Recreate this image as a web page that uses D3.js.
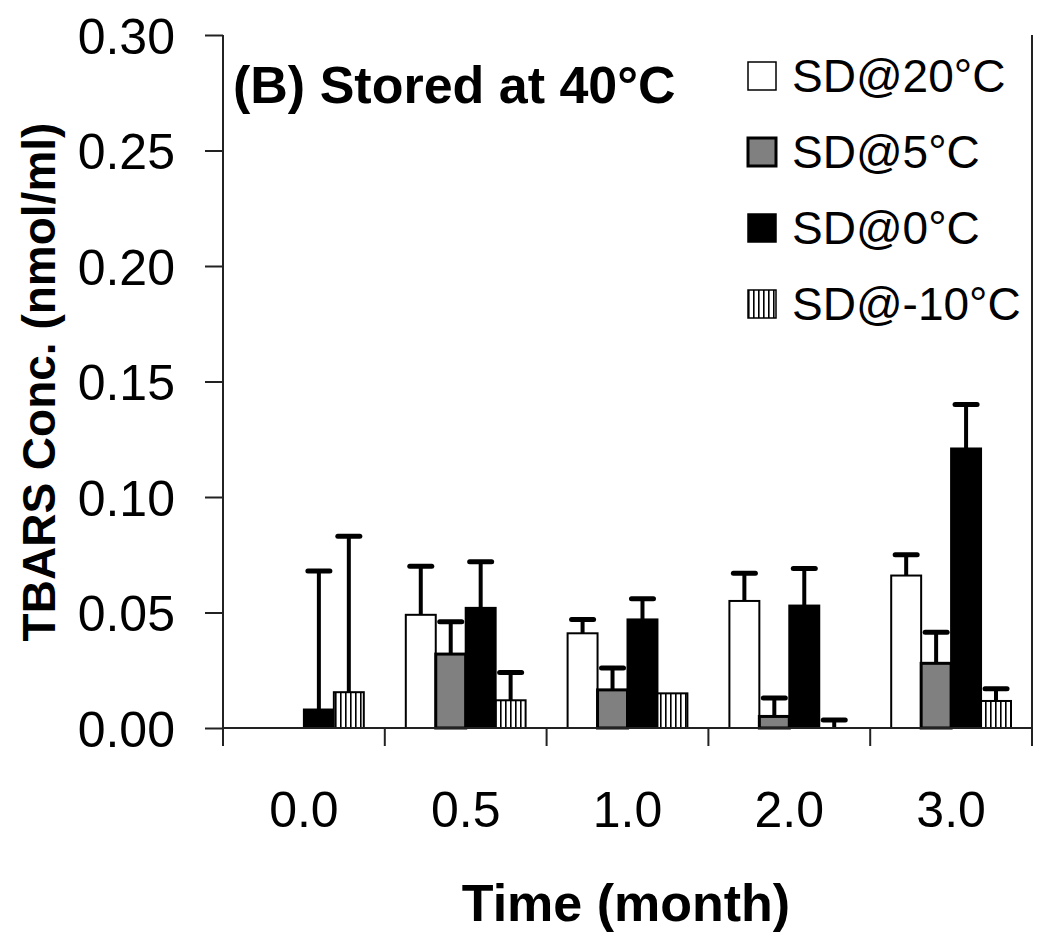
<!DOCTYPE html>
<html>
<head>
<meta charset="utf-8">
<script src="https://cdn.jsdelivr.net/npm/d3@7"></script>
<style>
  html, body { margin: 0; padding: 0; background: #fff; }
  svg { display: block; }
  text { font-family: "Liberation Sans", Arial, sans-serif; fill: #000; }
</style>
</head>
<body>
<svg id="chart" width="1050" height="946"></svg>
<script>
// ---- data ----
const categories = ["0.0", "0.5", "1.0", "2.0", "3.0"];
const seriesNames = ["SD@20°C", "SD@5°C", "SD@0°C", "SD@-10°C"];
const sd20 = [0, 0.049, 0.041, 0.055, 0.066];
const sd20Err = [0, 0.021, 0.006, 0.012, 0.009];
const sd5 = [0, 0.032, 0.0165, 0.005, 0.028];
const sd5Err = [0, 0.014, 0.0095, 0.008, 0.0135];
const sd0 = [0.008, 0.052, 0.047, 0.053, 0.121];
const sd0Err = [0.060, 0.020, 0.009, 0.016, 0.019];
const sdm10 = [0.0155, 0.012, 0.015, 0, 0.0117];
const sdm10Err = [0.0675, 0.012, 0, 0.0035, 0.0053];
const yTicks = [0, 0.05, 0.10, 0.15, 0.20, 0.25, 0.30];

const values = [sd20, sd5, sd0, sdm10];
const errors = [sd20Err, sd5Err, sd0Err, sdm10Err];
const fills = ["#ffffff", "#808080", "#000000", "url(#vhatch)"];

const svg = d3.select("#chart");
const pLeft = 223, pRight = 1032, pTop = 35, pBottom = 728;

// hatch pattern
const defs = svg.append("defs");
const pat = defs.append("pattern").attr("id", "vhatch")
  .attr("patternUnits", "userSpaceOnUse").attr("width", 5).attr("height", 10);
pat.append("rect").attr("width", 5).attr("height", 10).attr("fill", "#fff");
pat.append("rect").attr("x", 0).attr("width", 1.6).attr("height", 10).attr("fill", "#000");

const x = d3.scaleBand().domain(categories).range([pLeft, pRight]).paddingInner(0).paddingOuter(0);
const xs = d3.scaleBand().domain(seriesNames).range([21, x.bandwidth() - 21]).padding(0);
const y = d3.scaleLinear().domain([0, 0.30]).range([pBottom, pTop]);

// bars
const data = [];
categories.forEach((c, i) => {
  seriesNames.forEach((s, j) => {
    data.push({ c, s, j, v: values[j][i], e: errors[j][i] });
  });
});

const g = svg.append("g");
g.selectAll("rect.bar").data(data.filter(d => d.v > 0)).join("rect")
  .attr("class", "bar")
  .attr("x", d => x(d.c) + xs(d.s))
  .attr("width", xs.bandwidth())
  .attr("y", d => y(d.v))
  .attr("height", d => y(0) - y(d.v))
  .attr("fill", d => fills[d.j])
  .attr("stroke", "#000")
  .attr("stroke-width", d => d.j === 1 ? 3 : 2);

// error bars (upper only)
const eb = g.selectAll("g.err").data(data.filter(d => d.e > 0)).join("g").attr("class", "err");
eb.append("line")
  .attr("x1", d => x(d.c) + xs(d.s) + xs.bandwidth() / 2)
  .attr("x2", d => x(d.c) + xs(d.s) + xs.bandwidth() / 2)
  .attr("y1", d => y(d.v))
  .attr("y2", d => y(d.v + d.e))
  .attr("stroke", "#000").attr("stroke-width", 4);
eb.append("line")
  .attr("x1", d => x(d.c) + xs(d.s) + xs.bandwidth() / 2 - 11)
  .attr("x2", d => x(d.c) + xs(d.s) + xs.bandwidth() / 2 + 11)
  .attr("y1", d => y(d.v + d.e))
  .attr("y2", d => y(d.v + d.e))
  .attr("stroke", "#000").attr("stroke-width", 5).attr("stroke-linecap", "round");

// axes lines
const axisColor = "#222";
const yAxis = d3.axisLeft(y).tickValues(yTicks).tickSize(18).tickPadding(30)
  .tickFormat(d3.format(".2f"));
const ya = svg.append("g").attr("transform", `translate(${pLeft},0)`).call(yAxis);
ya.select(".domain").remove();
ya.selectAll(".tick line").attr("stroke", axisColor).attr("stroke-width", 2);
ya.selectAll(".tick text").attr("font-size", 50).attr("font-family", "Liberation Sans, Arial, sans-serif")
  .attr("fill", "#000").attr("dy", "0.36em");
svg.append("line").attr("x1", pLeft).attr("x2", pLeft).attr("y1", pTop).attr("y2", pBottom + 18)
  .attr("stroke", axisColor).attr("stroke-width", 2);

// x axis baseline
svg.append("line").attr("x1", pLeft).attr("x2", pRight).attr("y1", pBottom).attr("y2", pBottom)
  .attr("stroke", axisColor).attr("stroke-width", 2);
// category separator ticks
const bounds = categories.map(c => x(c)).concat([x(categories[categories.length - 1]) + x.bandwidth()]);
svg.selectAll("line.sep").data(bounds.slice(1)).join("line").attr("class", "sep")
  .attr("x1", d => d).attr("x2", d => d).attr("y1", pBottom).attr("y2", pBottom + 18)
  .attr("stroke", axisColor).attr("stroke-width", 2);
// right border
svg.append("line").attr("x1", pRight).attr("x2", pRight).attr("y1", pTop).attr("y2", pBottom + 18)
  .attr("stroke", axisColor).attr("stroke-width", 2);

// x labels
svg.selectAll("text.xl").data(categories).join("text").attr("class", "xl")
  .attr("x", d => x(d) + x.bandwidth() / 2).attr("y", 827)
  .attr("text-anchor", "middle").attr("font-size", 50).text(d => d);

// axis titles
svg.append("text").attr("x", 626).attr("y", 921).attr("text-anchor", "middle")
  .attr("font-size", 52).attr("font-weight", "bold").text("Time (month)");
svg.append("text").attr("transform", "translate(55,382) rotate(-90)").attr("text-anchor", "middle")
  .attr("font-size", 46).attr("font-weight", "bold").text("TBARS Conc. (nmol/ml)");

// panel title
svg.append("text").attr("x", 233).attr("y", 103).attr("font-size", 52).attr("font-weight", "bold")
  .text("(B) Stored at 40°C");

// legend
const legY = [76, 152, 228, 304];
const leg = svg.selectAll("g.leg").data(seriesNames).join("g").attr("class", "leg")
  .attr("transform", (d, i) => `translate(748,${legY[i]})`);
leg.append("rect").attr("x", 0).attr("y", -14).attr("width", 28).attr("height", 28)
  .attr("fill", (d, i) => fills[i]).attr("stroke", "#000").attr("stroke-width", (d, i) => i === 1 ? 3 : 1.5);
leg.append("text").attr("x", 44).attr("y", 16).attr("font-size", 46).text(d => d);
</script>
</body>
</html>
